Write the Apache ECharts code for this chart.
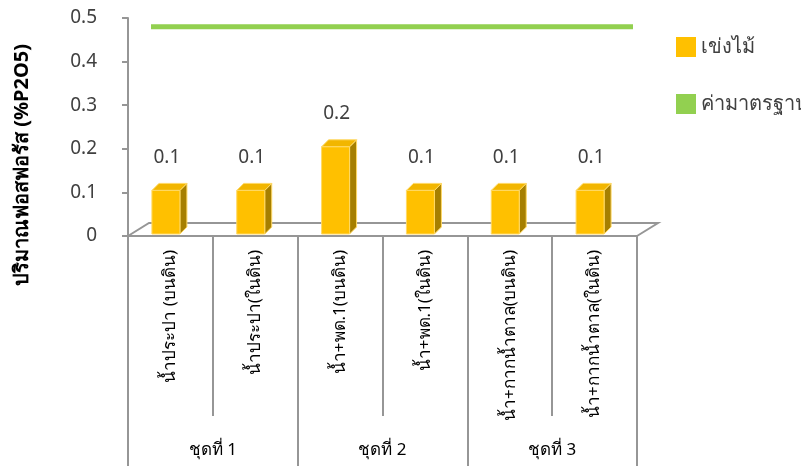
<!DOCTYPE html>
<html>
<head>
<meta charset="utf-8">
<script src="https://cdn.jsdelivr.net/npm/echarts@6/dist/echarts.min.js"></script>
<style>
  html, body { margin: 0; padding: 0; background: #fff; }
  #chart { width: 801px; height: 466px; }
</style>
</head>
<body>
<div id="chart"></div>
<script>
// Phosphorus content per treatment, grouped into three sets
const categories = [
  'น้ำประปา (บนดิน)', 'น้ำประปา(ในดิน)',
  'น้ำ+พด.1(บนดิน)', 'น้ำ+พด.1(ในดิน)',
  'น้ำ+กากน้ำตาล(บนดิน)', 'น้ำ+กากน้ำตาล(ในดิน)'
];
const groups = ['ชุดที่ 1', 'ชุดที่ 2', 'ชุดที่ 3'];
const basketValues = [0.1, 0.1, 0.2, 0.1, 0.1, 0.1];
const standardValues = [0.48, 0.48, 0.48, 0.48, 0.48, 0.48];
const yTicks = [0, 0.1, 0.2, 0.3, 0.4, 0.5];
const seriesNames = ['เข่งไม้', 'ค่ามาตรฐาน'];
const yTitle = 'ปริมาณฟอสฟอรัส (%P2O5)';

const FONT = 'Tahoma, "Noto Sans", sans-serif';
const TXT = '#404040';
const AXIS = '#969696';
const GOLD = '#FFC000';
const GOLD_SIDE = '#A67F00';
const GOLD_TOP = '#F2B600';
const GREEN = '#92D050';

const chart = echarts.init(document.getElementById('chart'), null, { renderer: 'canvas' });

// Column with a front face, a shaded side and a top, plus its value label
function renderBar(params, api) {
  const idx = api.value(0);
  const v = api.value(1);
  const top = api.coord([idx, v]);
  const base = api.coord([idx, 0]);
  const band = api.size([1, 0])[0];
  const w = band * 0.33;
  const dx = 7, dy = 7, lift = 2;
  const x0 = top[0] - (w + dx) / 2 - 1;
  const x1 = x0 + w;
  const yT = top[1] - lift;
  const yB = base[1] - lift;
  const edge = { stroke: '#FFD966', lineWidth: 1 };
  return {
    type: 'group',
    children: [
      { type: 'polygon', shape: { points: [[x1, yB], [x1, yT], [x1 + dx, yT - dy], [x1 + dx, yB - dy]] },
        style: Object.assign({ fill: GOLD_SIDE }, edge) },
      { type: 'polygon', shape: { points: [[x0, yT], [x1, yT], [x1 + dx, yT - dy], [x0 + dx, yT - dy]] },
        style: Object.assign({ fill: GOLD_TOP }, edge) },
      { type: 'rect', shape: { x: x0, y: yT, width: w, height: yB - yT },
        style: Object.assign({ fill: GOLD }, edge) },
      { type: 'text', x: (x0 + x1) / 2 + 1, y: yT - 33,
        style: { text: String(v), fill: TXT, font: '19px ' + FONT, align: 'center', verticalAlign: 'middle' } }
    ]
  };
}

chart.setOption({
  animation: false,
  backgroundColor: '#fff',
  textStyle: { fontFamily: FONT },
  grid: [
    { left: 128, right: 164, top: 18, bottom: 230 },
    { left: 151, right: 168, top: 18, bottom: 230 }
  ],
  legend: {
    orient: 'vertical',
    left: 671, top: 32,
    itemWidth: 20, itemHeight: 20, itemGap: 37,
    textStyle: { fontSize: 20, color: TXT, fontFamily: FONT },
    data: [
      { name: seriesNames[0], icon: 'rect', itemStyle: { color: GOLD } },
      { name: seriesNames[1], icon: 'rect', itemStyle: { color: GREEN } }
    ]
  },
  xAxis: [
    {
      type: 'category', gridIndex: 0, data: categories,
      axisLine: { lineStyle: { color: AXIS, width: 2 } },
      axisTick: { show: true, interval: 0, length: 180, lineStyle: { color: AXIS, width: 2 } },
      axisLabel: { interval: 0, rotate: 90, margin: 14, fontSize: 17, color: '#000', fontFamily: FONT }
    },
    {
      type: 'category', gridIndex: 0, data: groups, position: 'bottom',
      axisLine: { show: false },
      axisTick: { show: true, interval: 0, length: 232, lineStyle: { color: AXIS, width: 2 } },
      axisLabel: { interval: 0, margin: 206, fontSize: 17, color: '#000', fontFamily: FONT }
    },
    {
      type: 'category', gridIndex: 1, data: categories, boundaryGap: false, show: false
    }
  ],
  yAxis: [
    {
      type: 'value', gridIndex: 0, min: 0, max: 0.5, interval: 0.1,
      axisLine: { show: true, lineStyle: { color: AXIS, width: 2 } },
      axisTick: { show: true, length: 6, lineStyle: { color: AXIS, width: 2 } },
      splitLine: { show: false },
      axisLabel: {
        margin: 31, fontSize: 19, color: TXT, fontFamily: FONT,
        formatter: function (v) {
          const t = yTicks.find(function (k) { return Math.abs(k - v) < 1e-9; });
          return t === undefined ? '' : String(t);
        }
      }
    },
    { type: 'value', gridIndex: 1, min: 0, max: 0.5, show: false }
  ],
  series: [
    {
      name: seriesNames[0], type: 'custom', xAxisIndex: 0, yAxisIndex: 0, z: 5,
      itemStyle: { color: GOLD },
      renderItem: renderBar,
      data: basketValues.map(function (v, i) { return [i, v]; })
    },
    {
      name: seriesNames[1], type: 'line', xAxisIndex: 2, yAxisIndex: 1,
      data: standardValues, symbol: 'none', z: 4,
      itemStyle: { color: GREEN },
      lineStyle: { color: GREEN, width: 5 }
    }
  ]
});

// Floor of the plot: back edge and the two receding side edges
(function drawFloor() {
  const y0 = chart.convertToPixel({ yAxisIndex: 0 }, 0);
  const c0 = chart.convertToPixel({ xAxisIndex: 0 }, categories[0]);
  const c1 = chart.convertToPixel({ xAxisIndex: 0 }, categories[1]);
  const cN = chart.convertToPixel({ xAxisIndex: 0 }, categories[categories.length - 1]);
  const band = c1 - c0;
  const left = c0 - band / 2;
  const right = cN + band / 2;
  const ddx = 21, ddy = 13;
  const ls = { stroke: AXIS, lineWidth: 2, fill: null };
  chart.setOption({
    graphic: [
      { type: 'polyline', z: 1, shape: { points: [[left, y0], [left + ddx, y0 - ddy], [right + ddx, y0 - ddy], [right, y0]] }, style: ls },
      { type: 'text', z: 10, x: 22, y: 165, rotation: Math.PI / 2,
        style: { text: yTitle, fill: '#000', font: 'bold 20px ' + FONT, align: 'center', verticalAlign: 'middle' } }
    ]
  });
})();
</script>
</body>
</html>
